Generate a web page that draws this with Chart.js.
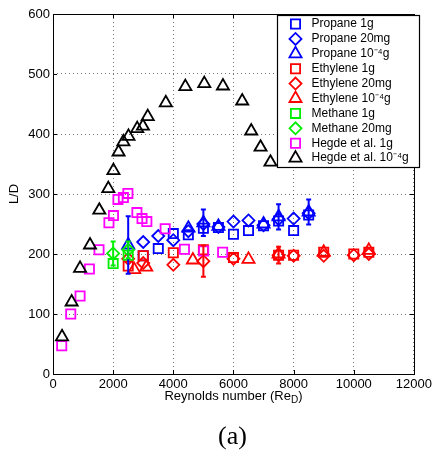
<!DOCTYPE html>
<html lang="en">
<head>
<meta charset="UTF-8" />
<title>L/D vs Reynolds number</title>
<script src="https://cdn.jsdelivr.net/npm/chart.js"></script>
<style>
  html, body { margin: 0; padding: 0; background: #fff; }
  #wrap { width: 435px; height: 461px; }
</style>
</head>
<body>
<div id="wrap"><canvas id="ldChart" width="435" height="461"></canvas></div>
<script>
  // Propane
  const propane1gRe = [3000, 3500, 4000, 4500, 5000, 5500, 6000, 6500, 7000, 7500, 8000, 8500];
  const propane1gLD = [197, 209, 234, 232, 243, 244, 233, 239, 247, 255, 239, 265];
  const propane20mgRe = [3000, 3500, 4000, 4500, 5000, 5500, 6000, 6500, 7000, 7500, 8000, 8500];
  const propane20mgLD = [220, 230, 223, 238, 250, 245, 254, 256, 248, 258, 259, 268];
  const propaneMicroRe = [2500, 4500, 5000, 5500, 7000, 7500, 8500];
  const propaneMicroLD = [215, 243, 252, 246, 250, 262, 270];
  const propaneMicroErr = [48, 0, 22, 0, 0, 21, 21];

  // Ethylene
  const ethylene1gRe = [2500, 3000, 4000, 5000, 6000, 7500, 8000, 9000, 10000, 10500];
  const ethylene1gLD = [180, 197, 202, 207, 194, 198, 198, 203, 200, 203];
  const ethylene20mgRe = [2500, 3000, 4000, 5000, 6000, 7500, 8000, 9000, 10000, 10500];
  const ethylene20mgLD = [192, 185, 182, 188, 192, 198, 197, 197, 198, 200];
  const ethylene20mgErr = [0, 0, 0, 26, 0, 14, 0, 0, 0, 0];
  const ethyleneMicroRe = [2700, 3100, 4650, 6500, 7500, 9000, 10500];
  const ethyleneMicroLD = [174, 178, 190, 191, 200, 203, 206];

  // Methane
  const methane1gRe = [2000, 2500];
  const methane1gLD = [184, 198];
  const methane20mgRe = [2000, 2500];
  const methane20mgLD = [201, 207];
  const methane20mgErr = [20, 14];

  // Hegde et al.
  const hegde1gRe = [290, 590, 900, 1210, 1530, 1860, 2010, 2160, 2340, 2490, 2790, 2960, 3120, 3730, 4370, 5010, 5640];
  const hegde1gLD = [47, 100, 130, 175, 207, 252, 264, 291, 294, 301, 269, 259, 254, 242, 208, 205, 203];
  const hegdeMicroRe = [300, 620, 900, 1230, 1540, 1840, 2010, 2180, 2340, 2510, 2800, 2990, 3150, 3750, 4400, 5030, 5650, 6290, 6590, 6900, 7230];
  const hegdeMicroLD = [62, 120, 176, 215, 273, 309, 339, 370, 387, 396, 409, 413, 429, 452, 479, 484, 480, 455, 405, 378, 353];

  const xTicks = [0, 2000, 4000, 6000, 8000, 10000, 12000];
  const yTicks = [0, 100, 200, 300, 400, 500, 600];

  Chart.defaults.font.family = '"Liberation Sans", Arial, Helvetica, sans-serif';
  Chart.defaults.color = '#000';

  const markerSize = { rect: 6.5, rectRot: 6, triangle: 7 };

  function series(label, xs, ys, color, style, errors) {
    return {
      label: label,
      data: xs.map((x, i) => ({ x: x, y: ys[i] })),
      errors: errors || null,
      borderColor: color,
      backgroundColor: 'rgba(0,0,0,0)',
      pointStyle: style,
      pointRadius: markerSize[style],
      pointHoverRadius: markerSize[style],
      borderWidth: 1.8,
      showLine: false
    };
  }

  const datasets = [
    series('Propane 1g', propane1gRe, propane1gLD, '#0000ff', 'rect'),
    series('Propane 20mg', propane20mgRe, propane20mgLD, '#0000ff', 'rectRot'),
    series('Propane 10\u207B\u2074g', propaneMicroRe, propaneMicroLD, '#0000ff', 'triangle', propaneMicroErr),
    series('Ethylene 1g', ethylene1gRe, ethylene1gLD, '#ff0000', 'rect'),
    series('Ethylene 20mg', ethylene20mgRe, ethylene20mgLD, '#ff0000', 'rectRot', ethylene20mgErr),
    series('Ethylene 10\u207B\u2074g', ethyleneMicroRe, ethyleneMicroLD, '#ff0000', 'triangle'),
    series('Methane 1g', methane1gRe, methane1gLD, '#00ee00', 'rect'),
    series('Methane 20mg', methane20mgRe, methane20mgLD, '#00ee00', 'rectRot', methane20mgErr),
    series('Hegde et al. 1g', hegde1gRe, hegde1gLD, '#ff00ff', 'rect'),
    series('Hegde et al. 10\u207B\u2074g', hegdeMicroRe, hegdeMicroLD, '#000000', 'triangle')
  ];
  // later series drawn on top, like the original plot
  datasets.forEach((d, i) => { d.order = datasets.length - i; });

  const matlabFrame = {
    id: 'matlabFrame',
    afterDatasetsDraw(chart) {
      const { ctx, scales: { x, y } } = chart;
      ctx.save();
      chart.data.datasets.forEach(ds => {
        if (!ds.errors) return;
        ctx.strokeStyle = ds.borderColor;
        ctx.lineWidth = 2;
        ds.data.forEach((p, i) => {
          const e = ds.errors[i];
          if (!e) return;
          const px = x.getPixelForValue(p.x);
          const top = y.getPixelForValue(p.y + e);
          const bot = y.getPixelForValue(p.y - e);
          ctx.beginPath();
          ctx.moveTo(px, top); ctx.lineTo(px, bot);
          ctx.moveTo(px - 2.5, top); ctx.lineTo(px + 2.5, top);
          ctx.moveTo(px - 2.5, bot); ctx.lineTo(px + 2.5, bot);
          ctx.stroke();
        });
      });
      ctx.restore();
    },
    afterDraw(chart) {
      const { ctx, chartArea: a, scales: { x, y } } = chart;
      ctx.save();

      // axes box with inward ticks
      ctx.strokeStyle = '#000';
      ctx.lineWidth = 1;
      ctx.strokeRect(Math.round(a.left) + 0.5, Math.round(a.top) + 0.5,
        Math.round(a.right - a.left), Math.round(a.bottom - a.top));
      ctx.beginPath();
      xTicks.forEach(v => {
        const px = Math.round(x.getPixelForValue(v)) + 0.5;
        ctx.moveTo(px, a.bottom); ctx.lineTo(px, a.bottom - 4);
        ctx.moveTo(px, a.top); ctx.lineTo(px, a.top + 4);
      });
      yTicks.forEach(v => {
        const py = Math.round(y.getPixelForValue(v)) + 0.5;
        ctx.moveTo(a.left, py); ctx.lineTo(a.left + 4, py);
        ctx.moveTo(a.right, py); ctx.lineTo(a.right - 4, py);
      });
      ctx.stroke();

      // legend
      const bx = Math.round(a.right) - 137 + 0.5;
      const by = Math.round(a.top) + 1.5;
      const bw = 142, bh = 152;
      ctx.fillStyle = '#fff';
      ctx.fillRect(bx, by, bw, bh);
      ctx.strokeStyle = '#000';
      ctx.lineWidth = 1.2;
      ctx.strokeRect(bx, by, bw, bh);
      ctx.font = '12px "Liberation Sans", Arial, sans-serif';
      ctx.textBaseline = 'middle';
      ctx.textAlign = 'left';
      chart.data.datasets.forEach((ds, i) => {
        const ry = by + 8.5 + i * 14.9;
        ctx.fillStyle = 'rgba(0,0,0,0)';
        ctx.strokeStyle = ds.borderColor;
        ctx.lineWidth = 1.8;
        Chart.helpers.drawPoint(ctx, {
          pointStyle: ds.pointStyle, radius: ds.pointRadius, rotation: 0, borderWidth: 1.8
        }, bx + 18, ry);
        ctx.fillStyle = '#000';
        ctx.fillText(ds.label, bx + 34, ry);
      });

      // x axis title with subscript
      const cx = (a.left + a.right) / 2;
      const mainFont = '13px "Liberation Sans", Arial, sans-serif';
      const subFont = '10px "Liberation Sans", Arial, sans-serif';
      const partA = 'Reynolds number (Re', partB = 'D', partC = ')';
      ctx.font = mainFont;
      const wA = ctx.measureText(partA).width, wC = ctx.measureText(partC).width;
      ctx.font = subFont;
      const wB = ctx.measureText(partB).width;
      let tx = cx - (wA + wB + wC) / 2;
      const ty = a.bottom + 22;
      ctx.fillStyle = '#000';
      ctx.textBaseline = 'middle';
      ctx.font = mainFont; ctx.fillText(partA, tx, ty); tx += wA;
      ctx.font = subFont; ctx.fillText(partB, tx, ty + 4); tx += wB;
      ctx.font = mainFont; ctx.fillText(partC, tx, ty);

      // panel caption
      ctx.font = '26px "Liberation Serif", "Times New Roman", serif';
      ctx.textAlign = 'center';
      ctx.fillText('(a)', cx - 1, a.bottom + 63);
      ctx.restore();
    }
  };

  new Chart(document.getElementById('ldChart'), {
    type: 'scatter',
    data: { datasets: datasets },
    options: {
      responsive: false,
      animation: false,
      layout: { padding: { top: 14, right: 21, left: 0, bottom: 0 } },
      plugins: {
        legend: { display: false },
        tooltip: { enabled: false }
      },
      scales: {
        x: {
          type: 'linear',
          min: 0,
          max: 12000,
          afterBuildTicks: s => { s.ticks = xTicks.map(v => ({ value: v })); },
          ticks: { font: { size: 13 }, padding: 3, maxRotation: 0, autoSkip: false, callback: v => String(v) },
          grid: { color: 'rgba(0,0,0,0.55)', drawTicks: false },
          border: { display: false, dash: [1, 3] },
          afterFit: s => { s.height = 87; }
        },
        y: {
          min: 0,
          max: 600,
          afterBuildTicks: s => { s.ticks = yTicks.map(v => ({ value: v })); },
          ticks: { font: { size: 13 }, padding: 3, callback: v => String(v) },
          grid: { color: 'rgba(0,0,0,0.55)', drawTicks: false },
          border: { display: false, dash: [1, 3] },
          title: { display: true, text: 'L/D', font: { size: 13 }, padding: { top: 7, bottom: 0 } },
          afterFit: s => { s.width = 53; }
        }
      }
    },
    plugins: [matlabFrame]
  });
</script>
</body>
</html>
